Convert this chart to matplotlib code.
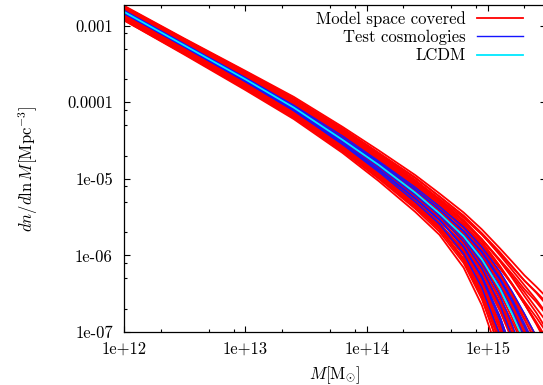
import numpy as np
import matplotlib
matplotlib.use("Agg")
import matplotlib.pyplot as plt
from matplotlib.ticker import FixedLocator, NullFormatter, FixedFormatter

# Halo mass grid [M_sun]
mass = [1e12, 3.16e12, 1e13, 2.51e13, 6.31e13, 1.26e14, 2.51e14, 3.98e14,
        6.31e14, 8.91e14, 1.26e15, 1.58e15, 2.0e15, 2.51e15, 3.02e15]

# log10(dn/dlnM [Mpc^-3])
lcdm = [-2.82, -3.26, -3.70, -4.07, -4.49, -4.82, -5.18, -5.45, -5.75, -6.05, -6.44, -6.76, -7.13, -7.55, -7.92]

red_01 = [-2.74, -3.17, -3.59, -3.93, -4.32, -4.63, -4.95, -5.19, -5.44, -5.66, -5.91, -6.08, -6.26, -6.41, -6.54]
red_02 = [-2.75, -3.18, -3.61, -3.96, -4.37, -4.68, -5.02, -5.28, -5.56, -5.82, -6.14, -6.37, -6.63, -6.90, -7.14]
red_03 = [-2.75, -3.18, -3.60, -3.95, -4.34, -4.66, -4.98, -5.23, -5.49, -5.72, -6.00, -6.19, -6.39, -6.58, -6.75]
red_04 = [-2.76, -3.19, -3.63, -4.00, -4.42, -4.74, -5.10, -5.38, -5.69, -5.99, -6.38, -6.67, -7.01, -7.40, -7.74]
red_05 = [-2.76, -3.19, -3.62, -3.97, -4.37, -4.68, -5.02, -5.27, -5.54, -5.79, -6.08, -6.29, -6.53, -6.75, -6.96]
red_06 = [-2.77, -3.21, -3.65, -4.03, -4.45, -4.80, -5.17, -5.45, -5.81, -6.17, -6.66, -7.06, -7.54, -8.10, -8.61]
red_07 = [-2.77, -3.20, -3.62, -3.96, -4.35, -4.67, -4.99, -5.23, -5.48, -5.71, -5.96, -6.14, -6.33, -6.49, -6.64]
red_08 = [-2.78, -3.21, -3.64, -4.00, -4.41, -4.74, -5.08, -5.35, -5.64, -5.92, -6.27, -6.53, -6.83, -7.15, -7.43]
red_09 = [-2.78, -3.23, -3.68, -4.05, -4.49, -4.84, -5.22, -5.52, -5.90, -6.32, -6.90, -7.39, -7.99, -8.70, -9.34]
red_10 = [-2.79, -3.22, -3.65, -4.00, -4.40, -4.72, -5.06, -5.31, -5.59, -5.85, -6.16, -6.38, -6.63, -6.89, -7.11]
red_11 = [-2.79, -3.23, -3.66, -4.03, -4.44, -4.77, -5.12, -5.39, -5.70, -5.99, -6.36, -6.64, -6.97, -7.32, -7.65]
red_12 = [-2.80, -3.24, -3.68, -4.05, -4.47, -4.81, -5.18, -5.46, -5.80, -6.13, -6.58, -6.93, -7.35, -7.84, -8.28]
red_13 = [-2.80, -3.23, -3.66, -4.00, -4.40, -4.71, -5.04, -5.29, -5.55, -5.79, -6.07, -6.27, -6.48, -6.69, -6.86]
red_14 = [-2.81, -3.25, -3.70, -4.07, -4.50, -4.85, -5.23, -5.52, -5.89, -6.28, -6.81, -7.26, -7.80, -8.43, -9.01]
red_15 = [-2.81, -3.25, -3.68, -4.03, -4.44, -4.76, -5.10, -5.36, -5.65, -5.92, -6.26, -6.50, -6.78, -7.07, -7.34]
red_16 = [-2.82, -3.26, -3.72, -4.10, -4.54, -4.90, -5.29, -5.59, -6.00, -6.47, -7.12, -7.69, -8.39, -9.22, -9.98]
red_17 = [-2.82, -3.25, -3.68, -4.03, -4.43, -4.75, -5.08, -5.34, -5.61, -5.86, -6.17, -6.38, -6.63, -6.87, -7.08]
red_18 = [-2.83, -3.27, -3.71, -4.08, -4.50, -4.83, -5.19, -5.47, -5.79, -6.10, -6.50, -6.81, -7.17, -7.58, -7.95]
red_19 = [-2.83, -3.28, -3.73, -4.11, -4.54, -4.90, -5.29, -5.58, -5.98, -6.42, -7.03, -7.55, -8.19, -8.95, -9.63]
red_20 = [-2.84, -3.27, -3.69, -4.03, -4.42, -4.74, -5.06, -5.30, -5.56, -5.79, -6.06, -6.24, -6.44, -6.61, -6.77]
red_21 = [-2.84, -3.28, -3.71, -4.07, -4.48, -4.81, -5.16, -5.42, -5.72, -6.01, -6.36, -6.63, -6.93, -7.27, -7.56]
red_22 = [-2.85, -3.29, -3.73, -4.11, -4.53, -4.87, -5.24, -5.53, -5.87, -6.23, -6.70, -7.09, -7.55, -8.08, -8.57]
red_23 = [-2.85, -3.29, -3.72, -4.07, -4.48, -4.80, -5.14, -5.40, -5.68, -5.95, -6.27, -6.51, -6.78, -7.06, -7.31]
red_24 = [-2.86, -3.30, -3.76, -4.14, -4.58, -4.95, -5.35, -5.65, -6.07, -6.55, -7.24, -7.83, -8.57, -9.46, -10.26]
red_25 = [-2.86, -3.30, -3.74, -4.10, -4.52, -4.84, -5.20, -5.47, -5.78, -6.08, -6.46, -6.74, -7.08, -7.45, -7.78]
red_26 = [-2.87, -3.31, -3.76, -4.14, -4.57, -4.92, -5.30, -5.59, -5.96, -6.36, -6.91, -7.37, -7.93, -8.59, -9.19]
red_27 = [-2.87, -3.30, -3.73, -4.08, -4.47, -4.79, -5.12, -5.37, -5.64, -5.88, -6.17, -6.37, -6.60, -6.81, -7.00]
red_28 = [-2.88, -3.32, -3.76, -4.13, -4.55, -4.89, -5.25, -5.53, -5.86, -6.19, -6.62, -6.96, -7.36, -7.82, -8.24]
red_29 = [-2.88, -3.33, -3.78, -4.16, -4.60, -4.96, -5.35, -5.65, -6.06, -6.51, -7.15, -7.70, -8.38, -9.19, -9.92]
red_30 = [-2.89, -3.32, -3.75, -4.11, -4.52, -4.84, -5.19, -5.45, -5.74, -6.02, -6.36, -6.61, -6.90, -7.20, -7.48]
red_31 = [-2.89, -3.33, -3.78, -4.15, -4.58, -4.93, -5.30, -5.59, -5.94, -6.32, -6.82, -7.24, -7.74, -8.32, -8.85]
red_32 = [-2.90, -3.33, -3.77, -4.13, -4.54, -4.87, -5.22, -5.49, -5.79, -6.08, -6.44, -6.72, -7.03, -7.38, -7.69]
red_33 = [-2.90, -3.35, -3.80, -4.18, -4.61, -4.97, -5.35, -5.64, -6.04, -6.46, -7.06, -7.56, -8.18, -8.92, -9.58]
red_34 = [-2.91, -3.35, -3.79, -4.16, -4.58, -4.90, -5.26, -5.54, -5.86, -6.16, -6.56, -6.86, -7.21, -7.61, -7.96]
red_35 = [-2.92, -3.36, -3.81, -4.19, -4.61, -4.96, -5.34, -5.62, -5.99, -6.37, -6.89, -7.32, -7.84, -8.45, -9.00]
red_36 = [-2.93, -3.38, -3.84, -4.22, -4.66, -5.03, -5.43, -5.73, -6.16, -6.65, -7.35, -7.96, -8.72, -9.63, -10.45]
red_37 = [-2.82, -3.26, -3.71, -4.08, -4.50, -4.84, -5.21, -5.49, -5.83, -6.18, -6.64, -7.01, -7.45, -7.96, -8.42]
red_38 = [-2.84, -3.29, -3.74, -4.11, -4.55, -4.90, -5.28, -5.58, -5.96, -6.38, -6.96, -7.45, -8.05, -8.76, -9.40]
red_39 = [-2.86, -3.30, -3.75, -4.12, -4.54, -4.88, -5.25, -5.53, -5.87, -6.22, -6.68, -7.05, -7.49, -8.00, -8.46]
red_40 = [-2.87, -3.31, -3.74, -4.09, -4.50, -4.82, -5.16, -5.42, -5.71, -5.98, -6.32, -6.56, -6.84, -7.13, -7.40]
red_41 = [-2.89, -3.33, -3.78, -4.16, -4.59, -4.94, -5.32, -5.61, -5.99, -6.40, -6.97, -7.44, -8.02, -8.71, -9.33]
red_42 = [-2.91, -3.35, -3.79, -4.16, -4.59, -4.93, -5.29, -5.58, -5.92, -6.27, -6.73, -7.10, -7.54, -8.05, -8.51]
red_43 = [-2.92, -3.36, -3.82, -4.20, -4.64, -5.00, -5.39, -5.69, -6.10, -6.57, -7.22, -7.79, -8.49, -9.32, -10.08]
red_44 = [-2.93, -3.37, -3.82, -4.20, -4.63, -4.99, -5.37, -5.66, -6.05, -6.47, -7.05, -7.54, -8.14, -8.85, -9.49]
red_45 = [-2.79, -3.24, -3.69, -4.08, -4.51, -4.88, -5.28, -5.57, -5.99, -6.47, -7.14, -7.72, -8.44, -9.30, -10.07]
red_46 = [-2.76, -3.20, -3.63, -3.99, -4.39, -4.72, -5.06, -5.32, -5.62, -5.89, -6.23, -6.48, -6.77, -7.08, -7.35]
red_47 = [-2.92, -3.36, -3.79, -4.15, -4.56, -4.89, -5.24, -5.50, -5.80, -6.09, -6.44, -6.71, -7.01, -7.35, -7.64]
red_48 = [-2.81, -3.24, -3.66, -4.00, -4.39, -4.70, -5.02, -5.26, -5.51, -5.73, -5.98, -6.15, -6.33, -6.48, -6.61]

blue_01 = [-2.82, -3.25, -3.68, -4.04, -4.44, -4.77, -5.11, -5.36, -5.63, -5.89, -6.21, -6.47, -6.76, -7.06, -7.32]
blue_02 = [-2.83, -3.28, -3.73, -4.11, -4.55, -4.91, -5.30, -5.59, -5.98, -6.42, -7.05, -7.61, -8.30, -9.12, -9.85]
blue_03 = [-2.82, -3.26, -3.69, -4.06, -4.47, -4.79, -5.14, -5.40, -5.69, -5.96, -6.32, -6.60, -6.93, -7.28, -7.59]
blue_04 = [-2.81, -3.25, -3.69, -4.07, -4.49, -4.84, -5.21, -5.48, -5.82, -6.17, -6.65, -7.06, -7.55, -8.12, -8.63]
blue_05 = [-2.84, -3.27, -3.71, -4.08, -4.50, -4.82, -5.18, -5.45, -5.74, -6.03, -6.41, -6.71, -7.06, -7.46, -7.80]
blue_06 = [-2.82, -3.26, -3.71, -4.09, -4.52, -4.87, -5.25, -5.53, -5.89, -6.29, -6.85, -7.33, -7.92, -8.62, -9.24]
blue_07 = [-2.83, -3.26, -3.70, -4.06, -4.47, -4.79, -5.14, -5.40, -5.68, -5.95, -6.30, -6.57, -6.89, -7.23, -7.53]
blue_08 = [-2.80, -3.24, -3.68, -4.06, -4.48, -4.82, -5.18, -5.45, -5.77, -6.10, -6.53, -6.90, -7.33, -7.82, -8.26]
blue_09 = [-2.84, -3.28, -3.73, -4.11, -4.54, -4.89, -5.26, -5.54, -5.89, -6.27, -6.80, -7.25, -7.80, -8.45, -9.02]

red_curves = [red_01, red_02, red_03, red_04, red_05, red_06, red_07, red_08, red_09,
              red_10, red_11, red_12, red_13, red_14, red_15, red_16, red_17, red_18,
              red_19, red_20, red_21, red_22, red_23, red_24, red_25, red_26, red_27,
              red_28, red_29, red_30, red_31, red_32, red_33, red_34, red_35, red_36,
              red_37, red_38, red_39, red_40, red_41, red_42, red_43, red_44, red_45,
              red_46, red_47, red_48]
blue_curves = [blue_01, blue_02, blue_03, blue_04, blue_05, blue_06, blue_07, blue_08, blue_09]

legend_labels = ["Model space covered", "Test cosmologies", "LCDM"]
xtick_vals = [1e12, 1e13, 1e14, 1e15]
xtick_labels = ["1e+12", "1e+13", "1e+14", "1e+15"]
ytick_vals = [1e-7, 1e-6, 1e-5, 1e-4, 1e-3]
ytick_labels = ["1e-07", "1e-06", "1e-05", "0.0001", "0.001"]

plt.rcParams["mathtext.fontset"] = "cm"
plt.rcParams["font.family"] = ["cmr10", "DejaVu Serif"]
plt.rcParams["axes.unicode_minus"] = False

W, H = 543, 385
fig = plt.figure(figsize=(W / 100, H / 100), dpi=100)
ax = fig.add_axes([124 / W, 53 / H, 421.8 / W, 327 / H])
ax.set_xscale("log")
ax.set_yscale("log")

M = np.array(mass)
hr = hb = None
for c in red_curves:
    hr, = ax.plot(M, np.power(10.0, c), color="#ff0000", lw=1.3, solid_joinstyle="round")
for c in blue_curves:
    hb, = ax.plot(M, np.power(10.0, c), color="#1414ff", lw=1.0)
hc, = ax.plot(M, np.power(10.0, lcdm), color="#00e8ff", lw=1.3)

ax.set_xlim(1e12, 3.0e15)
ax.set_ylim(1e-7, 1.86e-3)

ax.xaxis.set_major_locator(FixedLocator(xtick_vals))
ax.xaxis.set_major_formatter(FixedFormatter(xtick_labels))
ax.yaxis.set_major_locator(FixedLocator(ytick_vals))
ax.yaxis.set_major_formatter(FixedFormatter(ytick_labels))
xminor = [m * 10.0 ** e for e in range(12, 16) for m in (2, 5, 8)]
yminor = [m * 10.0 ** e for e in range(-7, -2) for m in (2, 5, 8)]
ax.xaxis.set_minor_locator(FixedLocator(xminor))
ax.yaxis.set_minor_locator(FixedLocator(yminor))
ax.xaxis.set_minor_formatter(NullFormatter())
ax.yaxis.set_minor_formatter(NullFormatter())

ax.tick_params(which="both", direction="in", top=True, right=True, width=0.8, colors="black",
               labelsize=12)
ax.tick_params(which="major", length=4.5)
ax.tick_params(which="minor", length=2.5)
ax.tick_params(axis="x", pad=7)
ax.tick_params(axis="y", pad=8)
for s in ax.spines.values():
    s.set_linewidth(0.9)

ax.set_xlabel(r"$M[\mathrm{M}_{\odot}]$", fontsize=12, va="center")
ax.xaxis.set_label_coords(0.5, -0.131)
ax.set_ylabel(r"$dn/d\ln M[\mathrm{Mpc}^{-3}]$", fontsize=12, va="center")
ax.yaxis.set_label_coords(-0.228, 0.5)

leg = ax.legend([hr, hb, hc], legend_labels, loc="upper right",
                bbox_to_anchor=(523 / W, 1 - 11 / H), bbox_transform=fig.transFigure,
                frameon=False, markerfirst=False, fontsize=12, handlelength=2.75,
                handletextpad=0.7, labelspacing=0.18, borderpad=0, borderaxespad=0)

fig.savefig("out.png", dpi=100)
